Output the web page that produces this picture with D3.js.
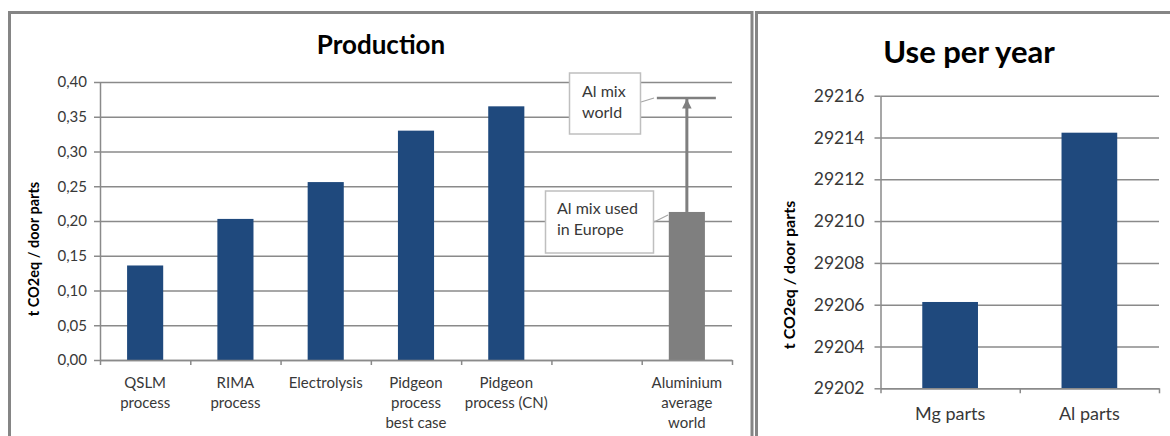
<!DOCTYPE html>
<html>
<head>
<meta charset="utf-8">
<script src="https://cdn.jsdelivr.net/npm/d3@7"></script>
<style>
  body { margin: 0; background: #fff; }
  svg { display: block; font-family: Lato, "Open Sans", sans-serif; }
</style>
</head>
<body>
<div id="chart"></div>
<script>
// Data
const prodLabels = [
  ["QSLM", "process"],
  ["RIMA", "process"],
  ["Electrolysis"],
  ["Pidgeon", "process", "best case"],
  ["Pidgeon", "process (CN)"],
  [],
  ["Aluminium", "average", "world"]
];
const prodValues = [0.136, 0.203, 0.256, 0.330, 0.365, null, 0.213];
const prodTicks = [0, 0.05, 0.10, 0.15, 0.20, 0.25, 0.30, 0.35, 0.40];
const alMixWorld = 0.377;
const alMixNotes = [["Al mix", "world"], ["Al mix used", "in Europe"]];

const useLabels = ["Mg parts", "Al parts"];
const useValues = [29206.13, 29214.23];
const useTicks = [29202, 29204, 29206, 29208, 29210, 29212, 29214, 29216];

const blue = "#1f497d", grayBar = "#7f7f7f", gridCol = "#8a8a8a", textCol = "#383838";

const svg = d3.select("#chart").append("svg")
  .attr("width", 1170).attr("height", 436);

const comma = d3.formatLocale({ decimal: ",", thousands: ".", grouping: [3], currency: ["", ""] }).format(".2f");

// Panel frames
svg.append("rect").attr("x", 9.5).attr("y", 12.5).attr("width", 742.5).attr("height", 500)
  .attr("fill", "#fff").attr("stroke", "#858585").attr("stroke-width", 3);
svg.append("rect").attr("x", 756.5).attr("y", 12.5).attr("width", 500).attr("height", 500)
  .attr("fill", "#fff").attr("stroke", "#858585").attr("stroke-width", 3);

// ---------- Production ----------
const p = { left: 100, right: 732, top: 82, bottom: 360 };
const px = d3.scaleBand().domain(d3.range(prodValues.length)).range([p.left, p.right]).padding(0);
const pxEdge = d3.scaleLinear().domain([0, prodValues.length]).range([p.left, p.right]);
const py = d3.scaleLinear().domain([0, 0.40]).range([p.bottom, p.top]);

const gP = svg.append("g");

gP.append("text").attr("x", 381).attr("y", 54).attr("text-anchor", "middle")
  .style("font-size", "26px").style("font-weight", "bold").attr("fill", "#000").text("Production");

// grid
gP.append("g").attr("transform", `translate(${p.left},0)`)
  .call(d3.axisLeft(py).tickValues(prodTicks).tickSize(-(p.right - p.left)).tickFormat(""))
  .call(g => g.select(".domain").remove())
  .call(g => g.selectAll("line").attr("stroke", gridCol).attr("stroke-width", 1.5));

// y axis
gP.append("g").attr("transform", `translate(${p.left},0)`)
  .call(d3.axisLeft(py).tickValues(prodTicks).tickSize(6).tickSizeOuter(0).tickPadding(7).tickFormat(comma))
  .call(g => g.select(".domain").attr("stroke", gridCol).attr("stroke-width", 1.5))
  .call(g => g.selectAll("line").attr("stroke", gridCol).attr("stroke-width", 1.5))
  .call(g => g.selectAll("text").attr("fill", textCol).style("font-size", "15px").style("font-family", "Lato, sans-serif"));

// bars
gP.selectAll("rect.bar").data(prodValues.map((v, i) => ({ v, i })).filter(d => d.v != null))
  .enter().append("rect").attr("class", "bar")
  .attr("x", d => px(d.i) + px.bandwidth() * 0.3)
  .attr("width", px.bandwidth() * 0.4)
  .attr("y", d => py(d.v))
  .attr("height", d => py(0) - py(d.v))
  .attr("fill", d => d.i === prodValues.length - 1 ? grayBar : blue);

// x axis
gP.append("g").attr("transform", `translate(0,${p.bottom})`)
  .call(d3.axisBottom(pxEdge).tickValues(d3.range(prodValues.length + 1)).tickSize(5).tickSizeOuter(0).tickFormat(""))
  .call(g => g.select(".domain").attr("stroke", gridCol).attr("stroke-width", 1.5))
  .call(g => g.selectAll("line").attr("stroke", gridCol).attr("stroke-width", 1.5));

gP.selectAll("text.xl").data(prodLabels).enter().append("text").attr("class", "xl")
  .attr("text-anchor", "middle").attr("fill", textCol).style("font-size", "15px")
  .each(function (lines, i) {
    d3.select(this).selectAll("tspan").data(lines).enter().append("tspan")
      .attr("x", px(i) + px.bandwidth() / 2)
      .attr("y", (d, j) => 388 + j * 20)
      .text(d => d);
  });

// y title
gP.append("text").attr("transform", "translate(39,249) rotate(-90)").attr("text-anchor", "middle")
  .style("font-size", "14.5px").style("font-weight", "bold").attr("fill", "#000").text("t CO2eq / door parts");

// Al mix world marker and arrow
const alX = px(prodValues.length - 1) + px.bandwidth() / 2;
gP.append("line").attr("x1", alX - 30).attr("x2", alX + 29)
  .attr("y1", py(alMixWorld)).attr("y2", py(alMixWorld))
  .attr("stroke", grayBar).attr("stroke-width", 2.5);
gP.append("defs").append("marker").attr("id", "arr").attr("viewBox", "0 0 10 10")
  .attr("refX", 10).attr("refY", 5).attr("markerWidth", 3.2).attr("markerHeight", 3.2).attr("orient", "auto")
  .append("path").attr("d", "M0,0L10,5L0,10Z").attr("fill", grayBar);
gP.append("line").attr("x1", alX).attr("x2", alX)
  .attr("y1", py(prodValues[prodValues.length - 1])).attr("y2", py(alMixWorld) + 1)
  .attr("stroke", grayBar).attr("stroke-width", 3).attr("marker-end", "url(#arr)");

// callouts
const boxes = [
  { x: 569.5, y: 73, w: 71, h: 61, lead: [641, 102, 654, 98], lines: alMixNotes[0], tx: 582, ty: 97 },
  { x: 545.5, y: 191, w: 108, h: 62, lead: [654, 222, 668, 215], lines: alMixNotes[1], tx: 557, ty: 214 }
];
boxes.forEach(b => {
  gP.append("line").attr("x1", b.lead[0]).attr("y1", b.lead[1]).attr("x2", b.lead[2]).attr("y2", b.lead[3])
    .attr("stroke", "#a6a6a6").attr("stroke-width", 1.2);
  gP.append("rect").attr("x", b.x).attr("y", b.y).attr("width", b.w).attr("height", b.h)
    .attr("fill", "#fff").attr("stroke", "#bfbfbf").attr("stroke-width", 1.5);
  gP.append("text").attr("fill", textCol).style("font-size", "16px")
    .selectAll("tspan").data(b.lines).enter().append("tspan")
    .attr("x", b.tx).attr("y", (d, j) => b.ty + j * 21).text(d => d);
});

// ---------- Use per year ----------
const u = { left: 880.5, right: 1159, top: 95.7, bottom: 388.3 };
const ux = d3.scaleBand().domain(useLabels).range([u.left, u.right]).padding(0);
const uxEdge = d3.scaleLinear().domain([0, useLabels.length]).range([u.left, u.right]);
const uy = d3.scaleLinear().domain([29202, 29216]).range([u.bottom, u.top]);

const gU = svg.append("g");

gU.append("text").attr("x", 969).attr("y", 63).attr("text-anchor", "middle")
  .style("font-size", "31px").style("font-weight", "bold").attr("fill", "#000").text("Use per year");

gU.append("g").attr("transform", `translate(${u.left},0)`)
  .call(d3.axisLeft(uy).tickValues(useTicks).tickSize(-(u.right - u.left)).tickFormat(""))
  .call(g => g.select(".domain").remove())
  .call(g => g.selectAll("line").attr("stroke", gridCol).attr("stroke-width", 1.5));

gU.append("g").attr("transform", `translate(${u.left},0)`)
  .call(d3.axisLeft(uy).tickValues(useTicks).tickSize(6).tickSizeOuter(0).tickPadding(10).tickFormat(d3.format("d")))
  .call(g => g.select(".domain").attr("stroke", gridCol).attr("stroke-width", 1.5))
  .call(g => g.selectAll("line").attr("stroke", gridCol).attr("stroke-width", 1.5))
  .call(g => g.selectAll("text").attr("fill", textCol).style("font-size", "17.5px").style("font-family", "Lato, sans-serif"));

gU.selectAll("rect.bar").data(useValues).enter().append("rect").attr("class", "bar")
  .attr("x", (d, i) => ux(useLabels[i]) + ux.bandwidth() * 0.3)
  .attr("width", ux.bandwidth() * 0.4)
  .attr("y", d => uy(d))
  .attr("height", d => uy(29202) - uy(d))
  .attr("fill", blue);

gU.append("g").attr("transform", `translate(0,${u.bottom})`)
  .call(d3.axisBottom(uxEdge).tickValues(d3.range(useLabels.length + 1)).tickSize(5).tickSizeOuter(0).tickFormat(""))
  .call(g => g.select(".domain").attr("stroke", gridCol).attr("stroke-width", 1.5))
  .call(g => g.selectAll("line").attr("stroke", gridCol).attr("stroke-width", 1.5));

gU.selectAll("text.xl").data(useLabels).enter().append("text").attr("class", "xl")
  .attr("x", d => ux(d) + ux.bandwidth() / 2).attr("y", 420)
  .attr("text-anchor", "middle").attr("fill", textCol).style("font-size", "18px").text(d => d);

gU.append("text").attr("transform", "translate(795,275) rotate(-90)").attr("text-anchor", "middle")
  .style("font-size", "16px").style("font-weight", "bold").attr("fill", "#000").text("t CO2eq / door parts");
</script>
</body>
</html>
